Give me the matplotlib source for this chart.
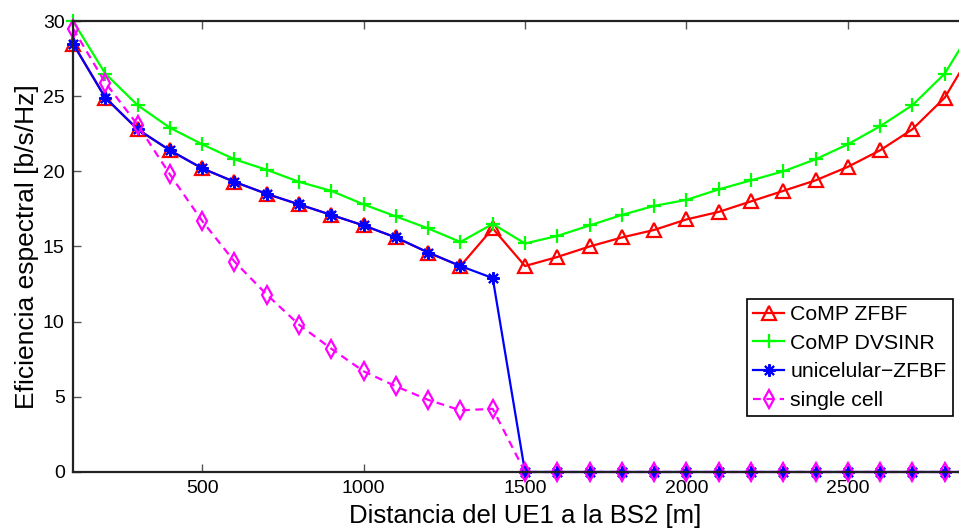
import matplotlib
matplotlib.use("Agg")
import matplotlib.pyplot as plt

# distance of UE1 to BS2 [m]
dist = [100, 200, 300, 400, 500, 600, 700, 800, 900, 1000,
        1100, 1200, 1300, 1400, 1500, 1600, 1700, 1800, 1900, 2000,
        2100, 2200, 2300, 2400, 2500, 2600, 2700, 2800, 2900]

comp_zfbf = [28.5, 24.9, 22.8, 21.4, 20.2, 19.3, 18.5, 17.8, 17.1, 16.4,
             15.6, 14.6, 13.7, 16.2, 13.7, 14.3, 15.0, 15.6, 16.1, 16.8,
             17.3, 18.0, 18.7, 19.4, 20.3, 21.4, 22.8, 24.9, 28.5]

comp_dvsinr = [30.0, 26.5, 24.4, 22.9, 21.8, 20.8, 20.1, 19.3, 18.7, 17.8,
               17.0, 16.2, 15.3, 16.5, 15.2, 15.7, 16.4, 17.1, 17.7, 18.1,
               18.8, 19.4, 20.0, 20.8, 21.8, 23.0, 24.4, 26.5, 30.0]

uni_zfbf = [28.5, 24.9, 22.8, 21.4, 20.2, 19.3, 18.5, 17.8, 17.1, 16.4,
            15.6, 14.6, 13.7, 12.9, 0, 0, 0, 0, 0, 0,
            0, 0, 0, 0, 0, 0, 0, 0, 0]

single_cell = [29.5, 25.9, 23.1, 19.8, 16.7, 14.0, 11.8, 9.8, 8.2, 6.7,
               5.7, 4.8, 4.1, 4.2, 0, 0, 0, 0, 0, 0,
               0, 0, 0, 0, 0, 0, 0, 0, 0]

plt.rcParams['font.family'] = ['Liberation Sans', 'DejaVu Sans']

fig = plt.figure(figsize=(9.59, 5.29), dpi=100)
ax = fig.add_axes([0.0761, 0.1078, 0.9427, 0.8525])

ax.plot(dist, comp_zfbf, color='#ff0000', lw=1.6, marker='^', ms=10,
        mfc='none', mew=1.6, label='CoMP ZFBF', clip_on=False)
ax.plot(dist, comp_dvsinr, color='#00ff00', lw=1.6, marker='+', ms=10,
        mew=1.6, label='CoMP DVSINR', clip_on=False)
ax.plot(dist, uni_zfbf, color='#0000ff', lw=1.6, marker=(8, 2, 0), ms=9,
        mew=1.5, label='unicelular\u2212ZFBF', clip_on=False)
ax.plot(dist, single_cell, color='#ff00ff', lw=1.6, ls=(0, (3.5, 2.5)),
        marker='d', ms=9, mfc='none', mew=1.6, label='single cell',
        clip_on=False)

ax.set_xlim(100, 2900)
ax.set_ylim(0, 30)
ax.set_xticks([500, 1000, 1500, 2000, 2500])
ax.set_yticks([0, 5, 10, 15, 20, 25, 30])
ax.tick_params(direction='in', length=6, labelsize=14, top=True, right=True,
               width=1, color='#555555', pad=6)
for s in ax.spines.values():
    s.set_linewidth(1.6)
    s.set_color('#222222')

ax.set_xlabel('Distancia del UE1 a la BS2 [m]', fontsize=18.5, labelpad=5)
ax.set_ylabel('Eficiencia espectral [b/s/Hz]', fontsize=19, labelpad=3)

leg = ax.legend(loc='upper right', bbox_to_anchor=(0.9735, 0.3836),
                borderaxespad=0, fontsize=15.3, fancybox=False,
                edgecolor='black', framealpha=1, handlelength=1.45,
                labelspacing=0.45, borderpad=0.3, handletextpad=0.3)
leg.get_frame().set_linewidth(1.2)

fig.savefig('out.png', dpi=100)
